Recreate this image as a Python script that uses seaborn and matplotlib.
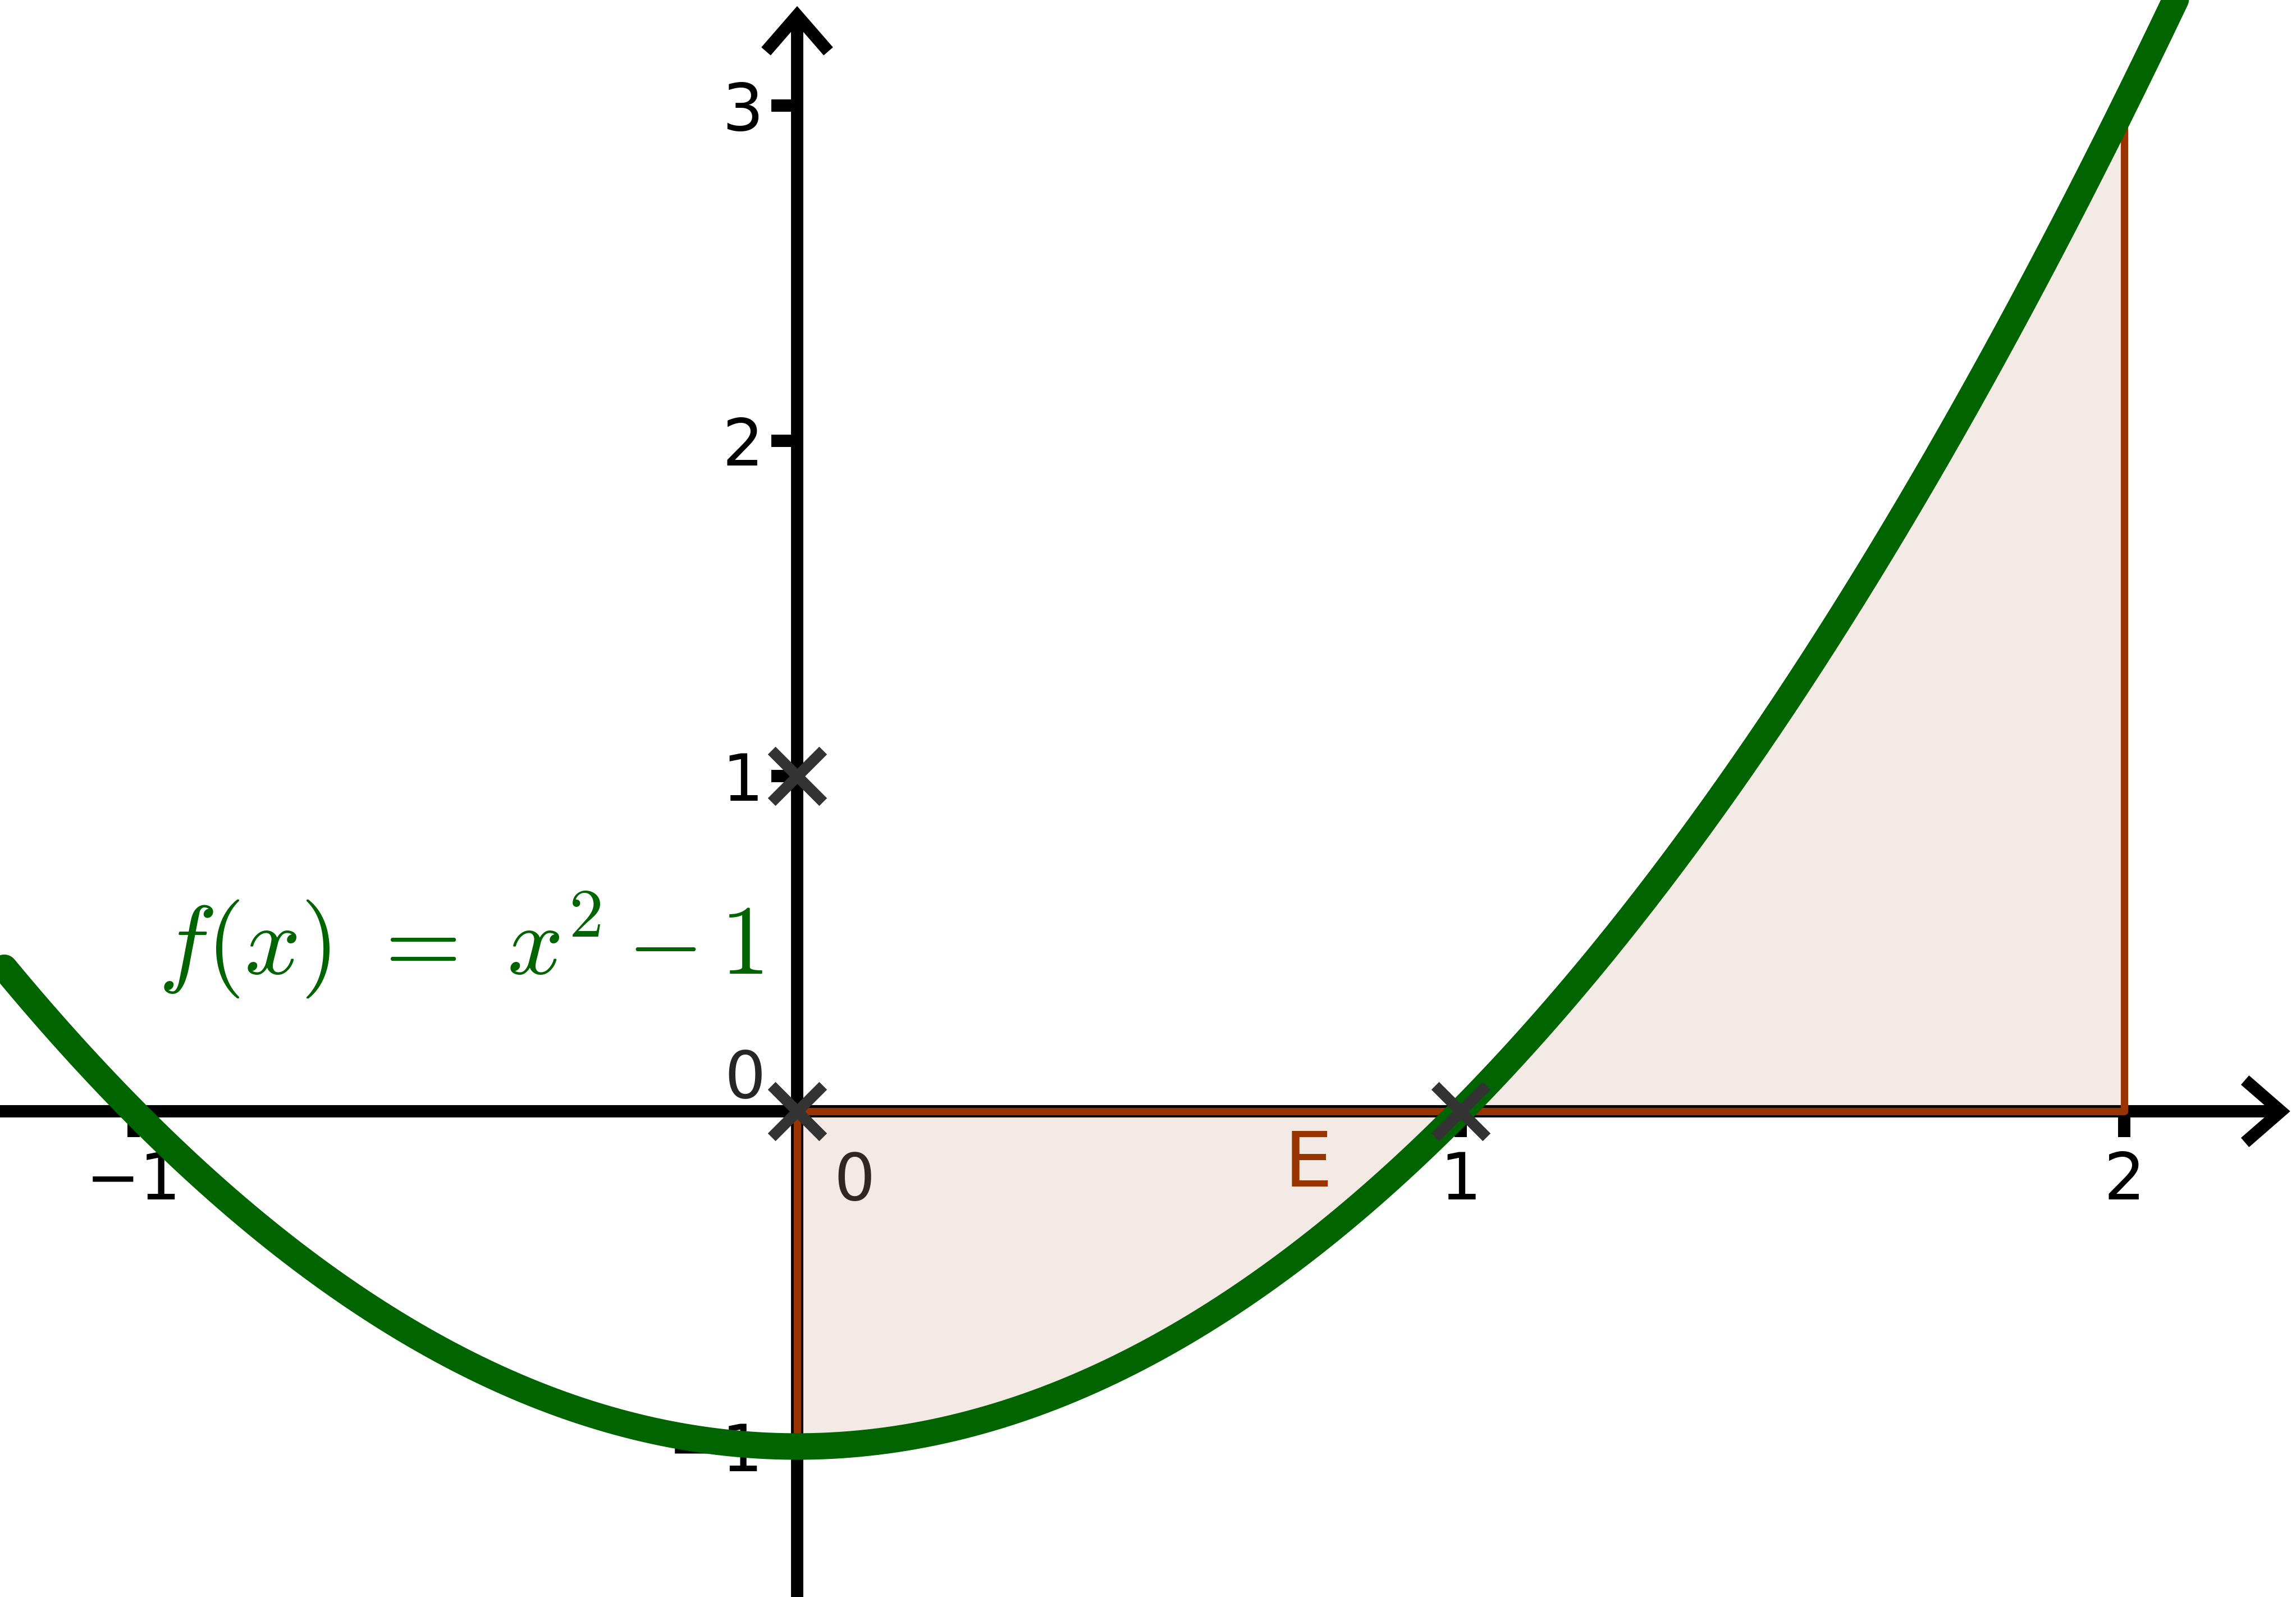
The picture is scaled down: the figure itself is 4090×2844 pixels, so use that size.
import numpy as np
import seaborn as sns
import matplotlib.pyplot as plt
from matplotlib.patches import ArrowStyle

# f(x) = x^2 - 1, shaded area E between x = 0 and x = 2
curve_x = np.linspace(-1.195, 2.3, 500)
curve_y = curve_x ** 2 - 1
area_x = np.linspace(0, 2, 300)
area_y = area_x ** 2 - 1

point_x = [0, 1, 0]
point_y = [0, 0, 1]

xtick_vals = [-1, 1, 2]
ytick_vals = [-1, 1, 2, 3]

green = "#006400"
brown = "#993300"
grey = "#333333"

sns.set_theme(style="white")
plt.rcParams["font.family"] = ["DejaVu Sans"]
plt.rcParams["mathtext.fontset"] = "cm"

fig = plt.figure(figsize=(20.45, 14.22), dpi=200)
ax = fig.add_axes([0, 0, 1, 1])
ax.set_xlim(-1.2014, 2.2589)
ax.set_ylim(-1.4489, 3.3149)
ax.set_axisbelow(True)

for s in ax.spines.values():
    s.set_visible(False)
ax.spines["left"].set_position(("data", 0))
ax.spines["bottom"].set_position(("data", 0))

ax.set_xticks(xtick_vals)
ax.set_yticks(ytick_vals)
ax.tick_params(axis="x", bottom=True, direction="out", length=16.6, width=7.9,
               pad=8.3, labelsize=41.5, colors="black")
ax.tick_params(axis="y", left=True, direction="out", length=16.6, width=7.9,
               pad=5, labelsize=41.5, colors="black")

# axis lines with open arrow heads
head = ArrowStyle("->", head_length=23, head_width=20)
arrow_kw = dict(arrowstyle=head, mutation_scale=1, lw=7.9, color="black",
                shrinkA=0, shrinkB=0, capstyle="butt", joinstyle="miter")
ax.annotate("", xy=(0.9975, 0), xytext=(0, 0),
            xycoords=("axes fraction", "data"), textcoords=("axes fraction", "data"),
            arrowprops=arrow_kw, zorder=0.6)
ax.annotate("", xy=(0, 0.9962), xytext=(0, 0),
            xycoords=("data", "axes fraction"), textcoords=("data", "axes fraction"),
            arrowprops=arrow_kw, zorder=0.6)

# origin labels
ax.text(0.086, -0.265, "0", fontsize=41.5, ha="center", va="baseline", zorder=0.7)
ax.text(-0.048, 0.040, "0", fontsize=41.5, ha="right", va="baseline", zorder=0.7)

# area E
ax.fill_between(area_x, area_y, 0, facecolor=(0.6, 0.2, 0.0, 0.1),
                edgecolor=brown, linewidth=4.7, joinstyle="round", zorder=2)
ax.text(0.770, -0.2245, "E", fontsize=49, color=brown, ha="center", va="baseline", zorder=3)

# curve
sns.lineplot(x=curve_x, y=curve_y, color=green, linewidth=17, sort=False,
             solid_capstyle="round", ax=ax, zorder=4)
ax.text(-0.963, 0.410, r"$f(x)\ =\ x^2 - 1$", fontsize=63, color=green,
        ha="left", va="baseline", zorder=4)

# points
sns.scatterplot(x=point_x, y=point_y, marker="x", s=33 ** 2, color=grey,
                linewidth=7, ax=ax, zorder=5)

fig.savefig("out.png", dpi=200)
